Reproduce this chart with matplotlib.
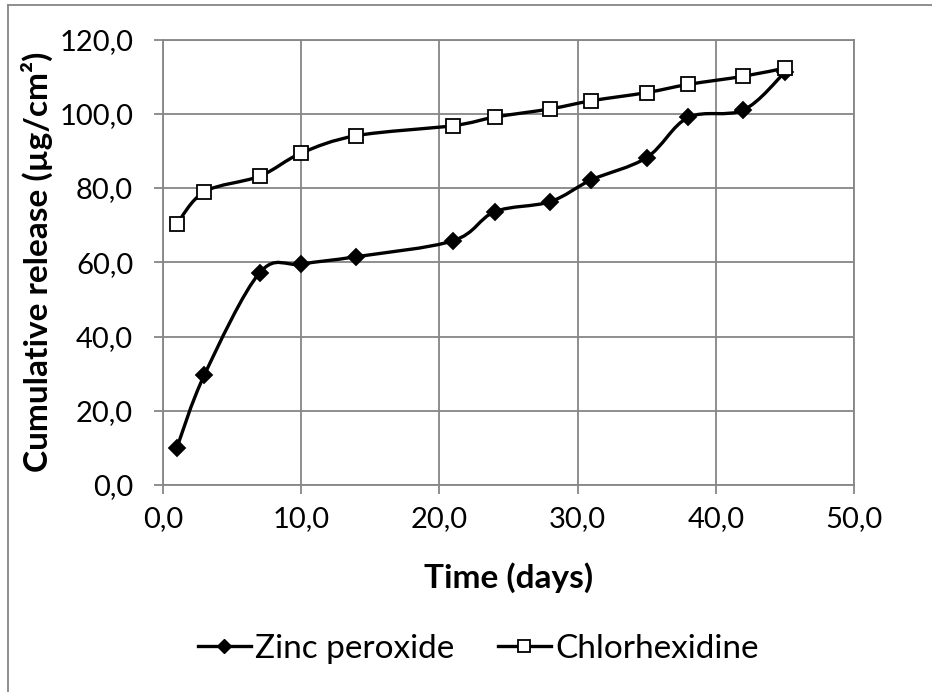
import numpy as np
import matplotlib
matplotlib.use('Agg')
from matplotlib import pyplot as plt
from matplotlib.path import Path
from matplotlib.patches import PathPatch
from matplotlib.lines import Line2D

plt.rcParams['font.family'] = ['Lato', 'DejaVu Sans']

days = [1, 3, 7, 10, 14, 21, 24, 28, 31, 35, 38, 42, 45]
zinc_peroxide = [10.0, 29.7, 57.2, 59.5, 61.5, 65.8, 73.6, 76.3, 82.2, 88.2, 99.0, 101.0, 111.2]
chlorhexidine = [70.3, 79.0, 83.2, 89.4, 94.1, 96.8, 99.1, 101.3, 103.5, 105.7, 107.9, 110.1, 112.3]

x_ticks = [0, 10, 20, 30, 40, 50]
y_ticks = [0, 20, 40, 60, 80, 100, 120]


def smooth_path(x, y):
	# Excel-like smoothed line: Catmull-Rom segments as cubic beziers
	p = np.column_stack([x, y]).astype(float)
	verts = [p[0]]
	codes = [Path.MOVETO]
	n = len(p)
	for i in range(n - 1):
		p0 = p[i - 1] if i > 0 else p[i]
		p1 = p[i]
		p2 = p[i + 1]
		p3 = p[i + 2] if i + 2 < n else p[i + 1]
		c1 = p1 + (p2 - p0) / 6.0
		c2 = p2 - (p3 - p1) / 6.0
		verts += [c1, c2, p2]
		codes += [Path.CURVE4] * 3
	return Path(verts, codes)


fig = plt.figure(figsize=(9.32, 6.92), dpi=100)
ax = fig.add_axes([163 / 932, 1 - 485 / 692, (854 - 163) / 932, (485 - 39.5) / 692])

for vals, marker, face, size in [(zinc_peroxide, 'D', 'black', 8),
								  (chlorhexidine, 's', 'white', 10)]:
	ax.add_patch(PathPatch(smooth_path(days, vals), facecolor='none',
						   edgecolor='black', lw=2.4, zorder=3))
	ax.plot(days, vals, linestyle='none', marker=marker, markersize=size,
			markerfacecolor=face, markeredgecolor='black', markeredgewidth=1.3, zorder=4)

ax.set_xlim(0, 50)
ax.set_ylim(0, 120)
ax.set_xticks(x_ticks)
ax.set_yticks(y_ticks)
ax.set_xticklabels([f'{v:.1f}'.replace('.', ',') for v in x_ticks])
ax.set_yticklabels([f'{v:.1f}'.replace('.', ',') for v in y_ticks])
ax.grid(True, color='#868686', lw=1.3)
ax.set_axisbelow(True)
for s in ax.spines.values():
	s.set_color('#868686')
	s.set_linewidth(1.3)
ax.tick_params(axis='both', direction='out', length=6.5, width=1.3, color='#868686',
			   labelsize=21)
ax.tick_params(axis='x', pad=9)
ax.tick_params(axis='y', pad=15)

ax.set_xlabel('Time (days)', fontsize=24, fontweight='bold', va='center')
ax.set_ylabel('Cumulative release (µg/cm²)', fontsize=24, fontweight='bold', va='center')
ax.xaxis.set_label_coords(0.5 * (854 + 163) / 691 - 163 / 691, (485 - 578) / 445.5)
ax.yaxis.set_label_coords((37 - 163) / 691, 0.5)

handles = [Line2D([], [], color='black', lw=2.4, marker='D', markersize=7,
				  markerfacecolor='black'),
		   Line2D([], [], color='black', lw=2.4, marker='s', markersize=9,
				  markerfacecolor='white', markeredgewidth=1.3)]
fig.legend(handles, ['Zinc peroxide', 'Chlorhexidine'], loc='center',
		   bbox_to_anchor=(478 / 932, 1 - 649 / 692), ncol=2, frameon=False,
		   fontsize=24, handlelength=1.6, handletextpad=0.12, columnspacing=1.3,
		   borderpad=0)

# chart area border (only top and left visible in the crop)
fig.add_artist(Line2D([8 / 932, 8 / 932], [0, 1 - 4.5 / 692], color='#868686', lw=1.3))
fig.add_artist(Line2D([8 / 932, 1], [1 - 4.5 / 692, 1 - 4.5 / 692], color='#868686', lw=1.3))

fig.savefig('out.png', dpi=100)
